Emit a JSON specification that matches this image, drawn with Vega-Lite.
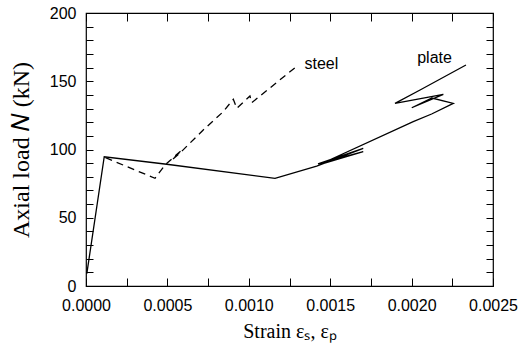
{
  "$schema": "https://vega.github.io/schema/vega-lite/v6.json",
  "width": 407,
  "height": 273,
  "autosize": "none",
  "padding": {"left": 86, "top": 13, "right": 39, "bottom": 62},
  "background": "white",
  "config": {
    "view": {"stroke": "black", "strokeWidth": 1.2},
    "axis": {"grid": false, "domain": false, "tickColor": "black", "tickWidth": 1, "labelColor": "black", "titleColor": "black", "labelFont": "Liberation Sans", "labelFontSize": 16, "titleFont": "Liberation Serif", "titleFontSize": 20, "titleFontWeight": "normal", "labelOverlap": false, "labelFlush": false}
  },
  "datasets": {
    "plate": [
      {"i": 0, "strain": 0.000005, "load": 9},
      {"i": 1, "strain": 0.000112, "load": 94.7},
      {"i": 2, "strain": 0.000496, "load": 89.2},
      {"i": 3, "strain": 0.001161, "load": 78.9},
      {"i": 4, "strain": 0.001417, "load": 87.9},
      {"i": 5, "strain": 0.001703, "load": 100.8},
      {"i": 6, "strain": 0.001425, "load": 89.4},
      {"i": 7, "strain": 0.001703, "load": 98.4},
      {"i": 8, "strain": 0.001435, "load": 89.0},
      {"i": 9, "strain": 0.00201, "load": 120.4},
      {"i": 10, "strain": 0.002123, "load": 126.0},
      {"i": 11, "strain": 0.002256, "load": 133.8},
      {"i": 12, "strain": 0.002125, "load": 137.7},
      {"i": 13, "strain": 0.002001, "load": 130.6},
      {"i": 14, "strain": 0.002195, "load": 140.4},
      {"i": 15, "strain": 0.001898, "load": 133.8},
      {"i": 16, "strain": 0.002052, "load": 143.6},
      {"i": 17, "strain": 0.002334, "load": 161.9}
    ],
    "steel": [
      {"i": 0, "strain": 0.00012, "load": 94},
      {"i": 1, "strain": 0.000424, "load": 78.9},
      {"i": 2, "strain": 0.000485, "load": 88.6},
      {"i": 3, "strain": 0.000588, "load": 99.6},
      {"i": 4, "strain": 0.000528, "load": 92.3},
      {"i": 5, "strain": 0.000577, "load": 97.4},
      {"i": 6, "strain": 0.00072, "load": 114.3},
      {"i": 7, "strain": 0.000843, "load": 127.7},
      {"i": 8, "strain": 0.000905, "load": 136.8},
      {"i": 9, "strain": 0.000926, "load": 130.2},
      {"i": 10, "strain": 0.001007, "load": 139.2},
      {"i": 11, "strain": 0.001018, "load": 134.3},
      {"i": 12, "strain": 0.001304, "load": 161.9}
    ],
    "labels": [
      {"strain": 0.001446, "load": 162.6, "text": "steel"},
      {"strain": 0.002141, "load": 167, "text": "plate"}
    ]
  },
  "resolve": {"axis": {"x": "independent", "y": "independent"}},
  "layer": [
    {
      "data": {"name": "plate"},
      "mark": {"type": "line", "color": "black", "strokeWidth": 1.3},
      "encoding": {
        "x": {"field": "strain", "type": "quantitative", "scale": {"domain": [0, 0.0025], "nice": false},
          "axis": {"orient": "bottom", "title": "Strain εₛ, εₚ", "values": [0, 0.00025, 0.0005, 0.00075, 0.001, 0.00125, 0.0015, 0.00175, 0.002, 0.00225, 0.0025],
            "labelExpr": "abs(round(datum.value*4000)) % 2 == 0 ? format(datum.value, '.4f') : ''", "tickSize": -8, "labelPadding": 19, "titlePadding": 8}},
        "y": {"field": "load", "type": "quantitative", "scale": {"domain": [0, 200], "nice": false},
          "axis": {"orient": "left", "title": "Axial load 𝑁 (kN)", "titleFontSize": 24, "values": [0,10,20,30,40,50,60,70,80,90,100,110,120,130,140,150,160,170,180,190,200],
            "labelExpr": "datum.value % 50 == 0 ? datum.label : ''", "tickSize": -7, "labelPadding": 17, "titlePadding": 16}},
        "order": {"field": "i", "type": "quantitative"}
      }
    },
    {
      "data": {"name": "steel"},
      "mark": {"type": "line", "color": "black", "strokeWidth": 1.3, "strokeDash": [7, 5]},
      "encoding": {
        "x": {"field": "strain", "type": "quantitative", "scale": {"domain": [0, 0.0025], "nice": false},
          "axis": {"orient": "top", "title": null, "labels": false, "values": [0, 0.00025, 0.0005, 0.00075, 0.001, 0.00125, 0.0015, 0.00175, 0.002, 0.00225, 0.0025], "tickSize": -8}},
        "y": {"field": "load", "type": "quantitative", "scale": {"domain": [0, 200], "nice": false},
          "axis": {"orient": "right", "title": null, "labels": false, "values": [0,10,20,30,40,50,60,70,80,90,100,110,120,130,140,150,160,170,180,190,200], "tickSize": -7}},
        "order": {"field": "i", "type": "quantitative"}
      }
    },
    {
      "data": {"name": "labels"},
      "mark": {"type": "text", "font": "Liberation Sans", "fontSize": 16, "color": "black", "baseline": "middle", "align": "center"},
      "encoding": {
        "x": {"field": "strain", "type": "quantitative", "axis": null},
        "y": {"field": "load", "type": "quantitative", "axis": null},
        "text": {"field": "text"}
      }
    }
  ]
}
